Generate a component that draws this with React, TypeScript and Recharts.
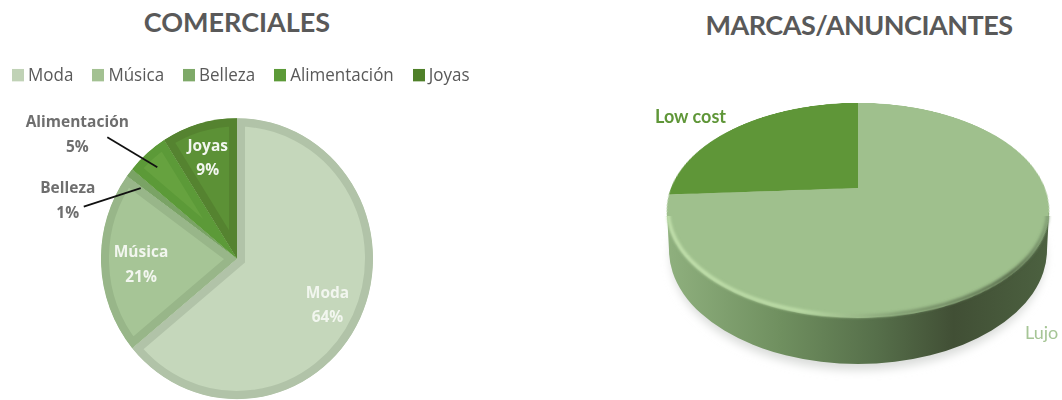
import { PieChart, Pie, Legend, Sector } from "recharts";

const comercialesNames = ["Moda", "Música", "Belleza", "Alimentación", "Joyas"];
const comercialesValues = [64, 21, 1, 5, 9];
const comercialesFaces = ["#c5d7bb", "#a6c596", "#7fa96a", "#66a23f", "#5c9136"];
const comercialesBorders = ["#b1c3a8", "#98b689", "#7aa365", "#5c9a38", "#558330"];
const legendColors = ["#c0d2b6", "#a3c192", "#7ea968", "#5c9a38", "#4f8029"];

const marcasNames = ["Lujo", "Low cost"];
const marcasValues = [74, 26];
const marcasColors = ["#9fc08d", "#5f9638"];

const comerciales = comercialesNames.map((name, i) => ({
  name,
  value: comercialesValues[i],
  fill: comercialesFaces[i],
  border: comercialesBorders[i],
  legendColor: legendColors[i],
}));
const marcas = marcasNames.map((name, i) => ({ name, value: marcasValues[i], fill: marcasColors[i] }));

const GREY = "#595959";
const LABEL_FONT = "'Open Sans', sans-serif";
const NO_MARGIN = { top: 0, right: 0, bottom: 0, left: 0 };

// label spot per slice: radius along the slice middle, plus a nudge for the outside ones
const labelSpots: Record<
  string,
  { r: number; dx: number; dy: number; leadFrom?: [number, number]; lead?: [number, number]; color: string }
> = {
  Moda: { r: 100, dx: 0, dy: 3, color: "#f2f6ef" },
  Música: { r: 96, dx: 0, dy: 3.5, color: "#f2f6ef" },
  Belleza: { r: 118, dx: -76, dy: 17, leadFrom: [-3, 4], lead: [-57, 18], color: "#6e6e6e" },
  Alimentación: { r: 122, dx: -79, dy: -28, leadFrom: [1, 3], lead: [-50, -29], color: "#6e6e6e" },
  Joyas: { r: 105, dx: 0, dy: 4, color: "#f2f6ef" },
};

function BevelSlice(props: any) {
  const { cx, cy, outerRadius, startAngle, endAngle, fill, name, index } = props;
  const clipId = `slice-clip-${index}`;
  const border = comerciales.find((d) => d.name === name)?.border ?? fill;
  const shape = { cx, cy, innerRadius: 0, outerRadius, startAngle, endAngle };
  return (
    <g>
      <clipPath id={clipId}>
        <Sector {...shape} />
      </clipPath>
      <g clipPath={`url(#${clipId})`}>
        <Sector {...shape} fill={fill} stroke={border} strokeWidth={16} strokeLinejoin="miter" />
      </g>
    </g>
  );
}

function sliceLabel(props: any) {
  const { cx, cy, midAngle, name, value } = props;
  const spot = labelSpots[name];
  const rad = (midAngle * Math.PI) / 180;
  const px = cx + spot.r * Math.cos(rad);
  const py = cy - spot.r * Math.sin(rad);
  const x = px + spot.dx;
  const y = py + spot.dy;
  const fromX = px + (spot.leadFrom?.[0] ?? 0);
  const fromY = py + (spot.leadFrom?.[1] ?? 0);
  return (
    <g key={name}>
      {spot.lead && (
        <line x1={fromX} y1={fromY} x2={fromX + spot.lead[0]} y2={fromY + spot.lead[1]} stroke="#111" strokeWidth={1.8} />
      )}
      <text
        x={x}
        y={y - 12}
        textAnchor="middle"
        dominantBaseline="middle"
        fontFamily={LABEL_FONT}
        fontWeight={700}
        fontSize={15.5}
        fill={spot.color}
      >
        {name}
      </text>
      <text
        x={x}
        y={y + 12}
        textAnchor="middle"
        dominantBaseline="middle"
        fontFamily={LABEL_FONT}
        fontWeight={700}
        fontSize={15.5}
        fill={spot.color}
      >
        {value}%
      </text>
    </g>
  );
}

function LegendRow() {
  return (
    <div style={{ display: "flex", gap: 19, fontFamily: LABEL_FONT, fontSize: 17, color: GREY, lineHeight: "20px" }}>
      {comerciales.map((d) => (
        <div key={d.name} style={{ display: "flex", alignItems: "center", gap: 4 }}>
          <span style={{ width: 12, height: 12, background: d.legendColor, display: "inline-block" }} />
          {d.name}
        </div>
      ))}
    </div>
  );
}

const titleStyle = {
  position: "absolute",
  margin: 0,
  fontFamily: "Lato, sans-serif",
  fontWeight: 700,
  color: GREY,
  textAlign: "center",
  whiteSpace: "nowrap",
} as const;

export default function App() {
  return (
    <div style={{ position: "absolute", left: 0, top: 0, width: 1062, height: 400, background: "#fff", overflow: "hidden" }}>
      <div style={{ ...titleStyle, left: 87, width: 300, top: 6, fontSize: 27, lineHeight: "32px" }}>COMERCIALES</div>
      <div style={{ ...titleStyle, left: 659, width: 400, top: 7, fontSize: 27, lineHeight: "36px", letterSpacing: -0.5 }}>
        MARCAS/ANUNCIANTES
      </div>

      {/* the reference pie is slightly taller than wide */}
      <div style={{ position: "absolute", left: 0, top: 0, transform: "scaleY(1.033)", transformOrigin: "237px 258px" }}>
        <PieChart width={500} height={400} margin={NO_MARGIN}>
          <Legend content={<LegendRow />} wrapperStyle={{ left: 12, top: 71, width: 480 }} verticalAlign="top" align="left" />
          <Pie
            data={comerciales}
            dataKey="value"
            nameKey="name"
            cx={237}
            cy={238}
            outerRadius={136}
            startAngle={90}
            endAngle={-270}
            stroke="none"
            shape={BevelSlice}
            label={sliceLabel}
            labelLine={false}
            isAnimationActive={false}
          />
        </PieChart>
      </div>

      {/* drum side and shadow under the tilted pie */}
      <svg width={1062} height={400} style={{ position: "absolute", left: 0, top: 0 }}>
        <defs>
          <linearGradient id="drumSide" x1="0" x2="1" y1="0" y2="0">
            <stop offset="0" stopColor="#8fb07e" />
            <stop offset="0.3" stopColor="#6f8f5f" />
            <stop offset="0.55" stopColor="#566f4a" />
            <stop offset="0.75" stopColor="#414f35" />
            <stop offset="1" stopColor="#4c6140" />
          </linearGradient>
          <filter id="softShadow" x="-20%" y="-20%" width="140%" height="140%">
            <feGaussianBlur stdDeviation="5" />
          </filter>
        </defs>
        <ellipse cx={858} cy={256} rx={187} ry={114} fill="#d9dbd9" filter="url(#softShadow)" />
        <path d="M667,212 L669,250 A189,114 0 0 0 1047,250 L1049,212 Z" fill="url(#drumSide)" />
      </svg>

      <div
        style={{
          position: "absolute",
          left: 658,
          top: -12,
          width: 400,
          height: 400,
          transform: "perspective(747px) rotateX(56.6deg)",
          transformOrigin: "200px 200px",
        }}
      >
        <PieChart width={400} height={400} margin={NO_MARGIN}>
          <Pie
            data={marcas}
            dataKey="value"
            nameKey="name"
            cx={200}
            cy={200}
            outerRadius={187}
            startAngle={90}
            endAngle={-270}
            stroke="none"
            isAnimationActive={false}
          />
        </PieChart>
      </div>

      {/* bevel highlight along the front rim */}
      <svg width={1062} height={400} style={{ position: "absolute", left: 0, top: 0, pointerEvents: "none" }}>
        <defs>
          <linearGradient id="rim" x1="0" x2="1" y1="0" y2="0">
            <stop offset="0" stopColor="#c8e6b2" />
            <stop offset="0.35" stopColor="#c0e0aa" />
            <stop offset="0.6" stopColor="#7f9a70" />
            <stop offset="0.9" stopColor="#4b5c40" />
            <stop offset="1" stopColor="#7d9970" />
          </linearGradient>
          <clipPath id="rimFront">
            <rect x={660} y={216} width={400} height={130} />
          </clipPath>
          <filter id="rimBlur" x="-5%" y="-5%" width="110%" height="110%">
            <feGaussianBlur stdDeviation="1.5" />
          </filter>
        </defs>
        <ellipse
          cx={858}
          cy={210}
          rx={190}
          ry={106}
          fill="none"
          stroke="url(#rim)"
          strokeWidth={3}
          clipPath="url(#rimFront)"
          filter="url(#rimBlur)"
        />
      </svg>

      <div style={{ position: "absolute", left: 655, top: 105, fontFamily: "Lato, sans-serif", fontWeight: 700, fontSize: 18, lineHeight: "22px", color: marcasColors[1] }}>
        {marcasNames[1]}
      </div>
      <div style={{ position: "absolute", left: 1025, top: 320, fontFamily: "Lato, sans-serif", fontWeight: 400, fontSize: 18, lineHeight: "24px", color: "#a6c596" }}>
        {marcasNames[0]}
      </div>
    </div>
  );
}
